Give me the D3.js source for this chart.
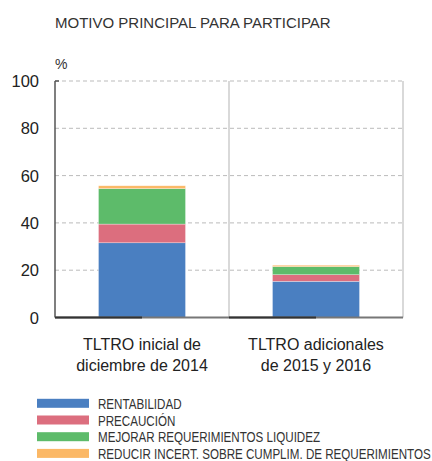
<!DOCTYPE html>
<html>
<head>
<meta charset="utf-8">
<script src="https://cdn.jsdelivr.net/npm/d3@7"></script>
<style>
  body { margin: 0; background: #fff; }
  text { font-family: "Liberation Sans", Arial, sans-serif; fill: #222; }
</style>
</head>
<body>
<svg></svg>
<script>
// Size of the picture
let width = 432,
    height = 461;

// Chart data
let categories = ["TLTRO inicial de\ndiciembre de 2014", "TLTRO adicionales\nde 2015 y 2016"];
let seriesNames = ["RENTABILIDAD", "PRECAUCIÓN", "MEJORAR REQUERIMIENTOS LIQUIDEZ",
                   "REDUCIR INCERT. SOBRE CUMPLIM. DE REQUERIMIENTOS"];
let rentabilidad = [31.6, 15.3];
let precaucion = [7.9, 2.8];
let liquidez = [15.0, 3.4];
let incertidumbre = [1.2, 0.6];
let yTicks = [0, 20, 40, 60, 80, 100];

let colors = ["#4a7fc1", "#dc6e7e", "#5dbb6a", "#fbb866"];

let svg = d3.select("svg")
    .attr("width", width)
    .attr("height", height);

let margin = {left: 55, right: 29, top: 81, bottom: 143.5};

// Table for the stack layout
let table = categories.map((c, i) => ({
    cat: c,
    s0: rentabilidad[i], s1: precaucion[i], s2: liquidez[i], s3: incertidumbre[i]
}));
let stacked = d3.stack().keys(["s0", "s1", "s2", "s3"])(table);

let x = d3.scaleBand()
    .domain(categories)
    .range([margin.left, width - margin.right])
    .paddingInner(0)
    .paddingOuter(0);

let y = d3.scaleLinear()
    .domain([0, 100])
    .range([height - margin.bottom, margin.top]);

// Title and unit
svg.append("text")
    .attr("x", 55).attr("y", 28)
    .style("font-size", "15px")
    .style("fill", "#333")
    .text("MOTIVO PRINCIPAL PARA PARTICIPAR");

svg.append("text")
    .attr("x", 55).attr("y", 69)
    .style("font-size", "14px")
    .style("fill", "#333")
    .text("%");

// Dashed gridlines
svg.append("g")
    .selectAll("line")
    .data(yTicks.filter(d => d > 0))
    .enter().append("line")
    .attr("x1", margin.left).attr("x2", width - margin.right)
    .attr("y1", d => y(d)).attr("y2", d => y(d))
    .style("stroke", "#bbb")
    .style("stroke-width", 1)
    .style("stroke-dasharray", "4,3");

// Vertical panel dividers
svg.append("g")
    .selectAll("line")
    .data(categories)
    .enter().append("line")
    .attr("x1", d => x(d) + x.bandwidth()).attr("x2", d => x(d) + x.bandwidth())
    .attr("y1", y(100)).attr("y2", y(0))
    .style("stroke", "#ccc")
    .style("stroke-width", 1.5);

// Stacked bars
let barW = x.bandwidth() / 2;
svg.append("g")
    .selectAll("g")
    .data(stacked)
    .enter().append("g")
    .style("fill", (d, i) => colors[i])
    .selectAll("rect")
    .data(d => d)
    .enter().append("rect")
    .attr("x", d => x(d.data.cat) + (x.bandwidth() - barW) / 2)
    .attr("width", barW)
    .attr("y", d => y(d[1]))
    .attr("height", d => y(d[0]) - y(d[1]))
    .style("stroke", "rgba(255,255,255,0.5)")
    .style("stroke-width", 0.6);

// Y axis labels
svg.append("g")
    .selectAll("text")
    .data(yTicks)
    .enter().append("text")
    .attr("x", 39)
    .attr("y", d => y(d) + 6)
    .attr("text-anchor", "end")
    .style("font-size", "16.5px")
    .text(d => d);

// Left axis line
svg.append("line")
    .attr("x1", margin.left).attr("x2", margin.left)
    .attr("y1", y(100)).attr("y2", y(0))
    .style("stroke", "#555")
    .style("stroke-width", 1.5);
svg.append("line")
    .attr("x1", margin.left).attr("x2", margin.left + 4)
    .attr("y1", y(100)).attr("y2", y(100))
    .style("stroke", "#555")
    .style("stroke-width", 1.5);

// Bottom axis: grey line, darker from each panel's left to its centre
svg.append("line")
    .attr("x1", margin.left).attr("x2", width - margin.right)
    .attr("y1", y(0)).attr("y2", y(0))
    .style("stroke", "#777")
    .style("stroke-width", 2);
svg.append("g")
    .selectAll("line")
    .data(categories)
    .enter().append("line")
    .attr("x1", d => x(d)).attr("x2", d => x(d) + x.bandwidth() / 2)
    .attr("y1", y(0)).attr("y2", y(0))
    .style("stroke", "#333")
    .style("stroke-width", 2);

// Category labels
svg.append("g")
    .selectAll("text")
    .data(categories)
    .enter().append("text")
    .attr("x", d => x(d) + x.bandwidth() / 2)
    .attr("y", 350)
    .attr("text-anchor", "middle")
    .style("font-size", "16px")
    .each(function(d) {
        let lines = d.split("\n");
        d3.select(this).selectAll("tspan")
            .data(lines)
            .enter().append("tspan")
            .attr("x", x(d) + x.bandwidth() / 2)
            .attr("dy", (l, i) => i === 0 ? 0 : 21)
            .text(l => l);
    });

// Legend
let legend = svg.append("g")
    .selectAll("g")
    .data(seriesNames)
    .enter().append("g")
    .attr("transform", (d, i) => "translate(37," + (403.3 + i * 16.7) + ")");

legend.append("rect")
    .attr("x", 0).attr("y", -4.5)
    .attr("width", 52).attr("height", 9)
    .style("fill", (d, i) => colors[i]);

// Condensed look for the legend labels
legend.append("text")
    .attr("transform", "translate(61,5.5) scale(0.8,1)")
    .style("font-size", "14.5px")
    .style("fill", "#333")
    .text(d => d);
</script>
</body>
</html>
